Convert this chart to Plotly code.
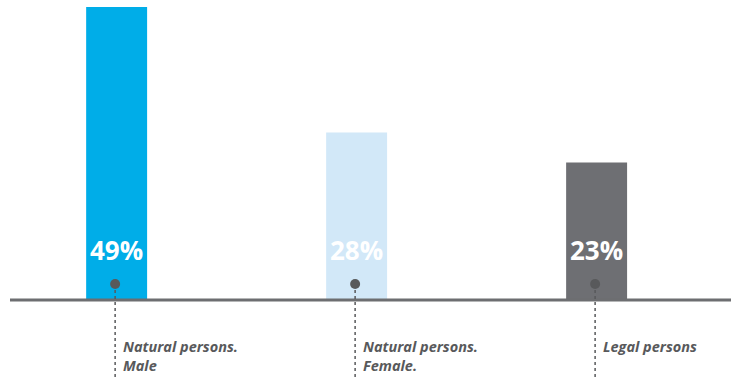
import plotly.graph_objects as go

categories = ["Natural persons.<br>Male", "Natural persons.<br>Female.", "Legal persons"]
values = [49, 28, 23]
value_labels = ["49%", "28%", "23%"]
bar_colors = ["#00ade8", "#d2e8f8", "#6e6f73"]

W, H = 731, 380
TOP, BASE = 7, 300  # pixel rows of value 49 and value 0
ymax = values[0]
ymin = -ymax * (H - BASE) / (BASE - TOP)

fig = go.Figure()
keys = ["c0", "c1", "c2"]
fig.add_trace(go.Bar(
    x=keys, y=values, width=0.254,
    marker=dict(color=bar_colors, line=dict(width=0)),
    hoverinfo="skip", showlegend=False,
))

shapes = []
annotations = []
# baseline
shapes.append(dict(type="line", xref="paper", yref="y", x0=10 / W, x1=1, y0=0, y1=0,
                   line=dict(color="#6d6e71", width=3), layer="above"))
for k, cat, lab in zip(keys, categories, value_labels):
    # dotted leader line
    shapes.append(dict(type="line", xref="x", yref="y", xsizemode="pixel", ysizemode="pixel",
                       xanchor=k, yanchor=0, x0=-1.5, x1=-1.5, y0=16, y1=-85,
                       line=dict(color="#58595b", width=1.5, dash="dot"), layer="above"))
    # dot
    shapes.append(dict(type="circle", xref="x", yref="y", xsizemode="pixel", ysizemode="pixel",
                       xanchor=k, yanchor=0, x0=-6.5, x1=3.5, y0=11, y1=21,
                       fillcolor="#58595b", line=dict(width=0), layer="above"))
    annotations.append(dict(x=k, y=0, xref="x", yref="y", text="<b>" + lab + "</b>",
                            showarrow=False, yshift=50, xanchor="center", yanchor="middle",
                            font=dict(family="Open Sans", size=26, color="white")))
    annotations.append(dict(x=k, y=0, xref="x", yref="y", text="<b><i>" + cat + "</i></b>",
                            showarrow=False, xshift=4, yshift=-35,
                            xanchor="left", yanchor="top", align="left",
                            font=dict(family="Open Sans", size=14.5, color="#58595b")))

fig.update_layout(
    width=W, height=H,
    margin=dict(l=0, r=0, t=TOP, b=0),
    paper_bgcolor="white", plot_bgcolor="white",
    xaxis=dict(range=[-0.486, 2.56], showticklabels=False, showgrid=False, zeroline=False,
               showline=False, ticks=""),
    yaxis=dict(range=[ymin, ymax], showticklabels=False, showgrid=False, zeroline=False,
               showline=False, ticks=""),
    shapes=shapes, annotations=annotations,
)
fig.write_html("out.html")
